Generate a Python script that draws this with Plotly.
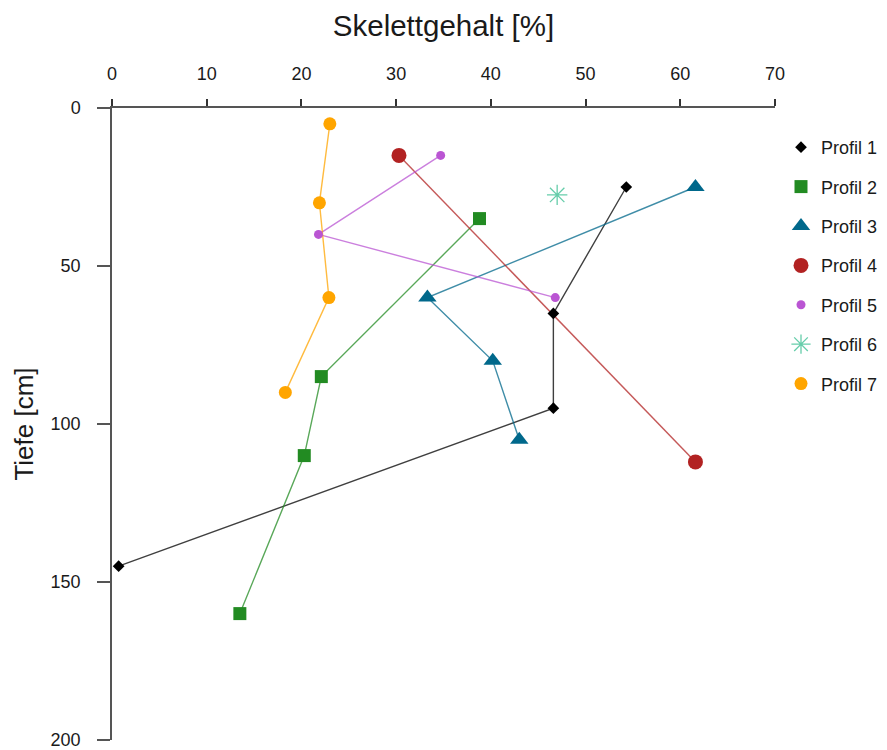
import plotly.graph_objects as go

# Data (Skelettgehalt [%] vs Tiefe [cm])
p1_x = [54.3, 46.6, 46.6, 0.7]
p1_y = [25, 65, 95, 145]
p2_x = [38.8, 22.1, 20.3, 13.5]
p2_y = [35, 85, 110, 160]
p3_x = [61.6, 33.3, 40.2, 43.0]
p3_y = [25, 60, 80, 105]
p4_x = [30.3, 61.6]
p4_y = [15, 112]
p5_x = [34.7, 21.8, 46.8]
p5_y = [15, 40, 60]
p6_x = [47.0]
p6_y = [27.5]
p7_x = [23.0, 21.9, 22.9, 18.3]
p7_y = [5, 30, 60, 90]

names = ["Profil 1", "Profil 2", "Profil 3", "Profil 4", "Profil 5", "Profil 6", "Profil 7"]
xs = [p1_x, p2_x, p3_x, p4_x, p5_x, p6_x, p7_x]
ys = [p1_y, p2_y, p3_y, p4_y, p5_y, p6_y, p7_y]
colors = ["#000000", "#228B22", "#00688B", "#B22222", "#BA55D3", "#66CDAA", "#FFA500"]
symbols = ["diamond", "square", "triangle-up", "circle", "circle", "asterisk-open", "circle"]
sizes = [9, 13, 16, 15, 9, 17, 13]

fig = go.Figure()
for i, name in enumerate(names):
    if len(xs[i]) > 1:
        fig.add_trace(go.Scatter(
            x=xs[i], y=ys[i], mode="lines", legendgroup=name, showlegend=False,
            line=dict(color=colors[i], width=1.4), opacity=0.75, hoverinfo="skip"))
for i, name in enumerate(names):
    mk = dict(color=colors[i], symbol=symbols[i], size=sizes[i])
    if symbols[i] == "asterisk-open":
        mk["line"] = dict(color=colors[i], width=1.3)
    else:
        mk["line"] = dict(width=0)
    fig.add_trace(go.Scatter(
        x=xs[i], y=ys[i], mode="markers", name=name, legendgroup=name,
        marker=mk))

# page has an 8px body margin: figure is 879x742 so it fills 887x750
L, R, T, B = 104, 112, 100, 10
W, H = 879, 742
PW, PH = W - L - R, H - T - B

axis_font = dict(family="Liberation Sans, Arial, sans-serif", size=18, color="#1a1a1a")
fig.update_layout(
    width=W, height=H,
    margin=dict(l=L, r=R, t=T, b=B, autoexpand=False),
    paper_bgcolor="white", plot_bgcolor="white",
    font=dict(family="Liberation Sans, Arial, sans-serif", color="#1a1a1a"),
    xaxis=dict(
        side="top", range=[0, 70], tickvals=[0, 10, 20, 30, 40, 50, 60, 70],
        showline=True, linecolor="#555555", linewidth=1.5, mirror=False,
        ticks="outside", ticklen=7, tickwidth=1.5, tickcolor="#333333",
        showgrid=False, zeroline=False, tickfont=axis_font, ticklabelstandoff=12,
        ticklabeloverflow="allow",
        title=dict(text="Skelettgehalt [%]", font=dict(size=29.5, color="#1a1a1a"), standoff=19),
        automargin=False),
    yaxis=dict(
        range=[200, 0], tickvals=[0, 50, 100, 150, 200],
        showline=True, linecolor="#555555", linewidth=1.5, mirror=False,
        ticks="outside", ticklen=13, tickwidth=1.5, tickcolor="#555555",
        showgrid=False, zeroline=False, tickfont=axis_font, ticklabelstandoff=13,
        ticklabeloverflow="allow",
        title=dict(text="Tiefe [cm]", font=dict(size=26, color="#1a1a1a"), standoff=10),
        automargin=False),
    legend=dict(
        x=1.0 + 6 / PW, xanchor="left", y=1 - (21) / PH, yanchor="top",
        font=dict(size=18, color="#1a1a1a"), traceorder="grouped", tracegroupgap=13,
        bgcolor="rgba(0,0,0,0)", borderwidth=0),
)

fig.write_html("out.html")
